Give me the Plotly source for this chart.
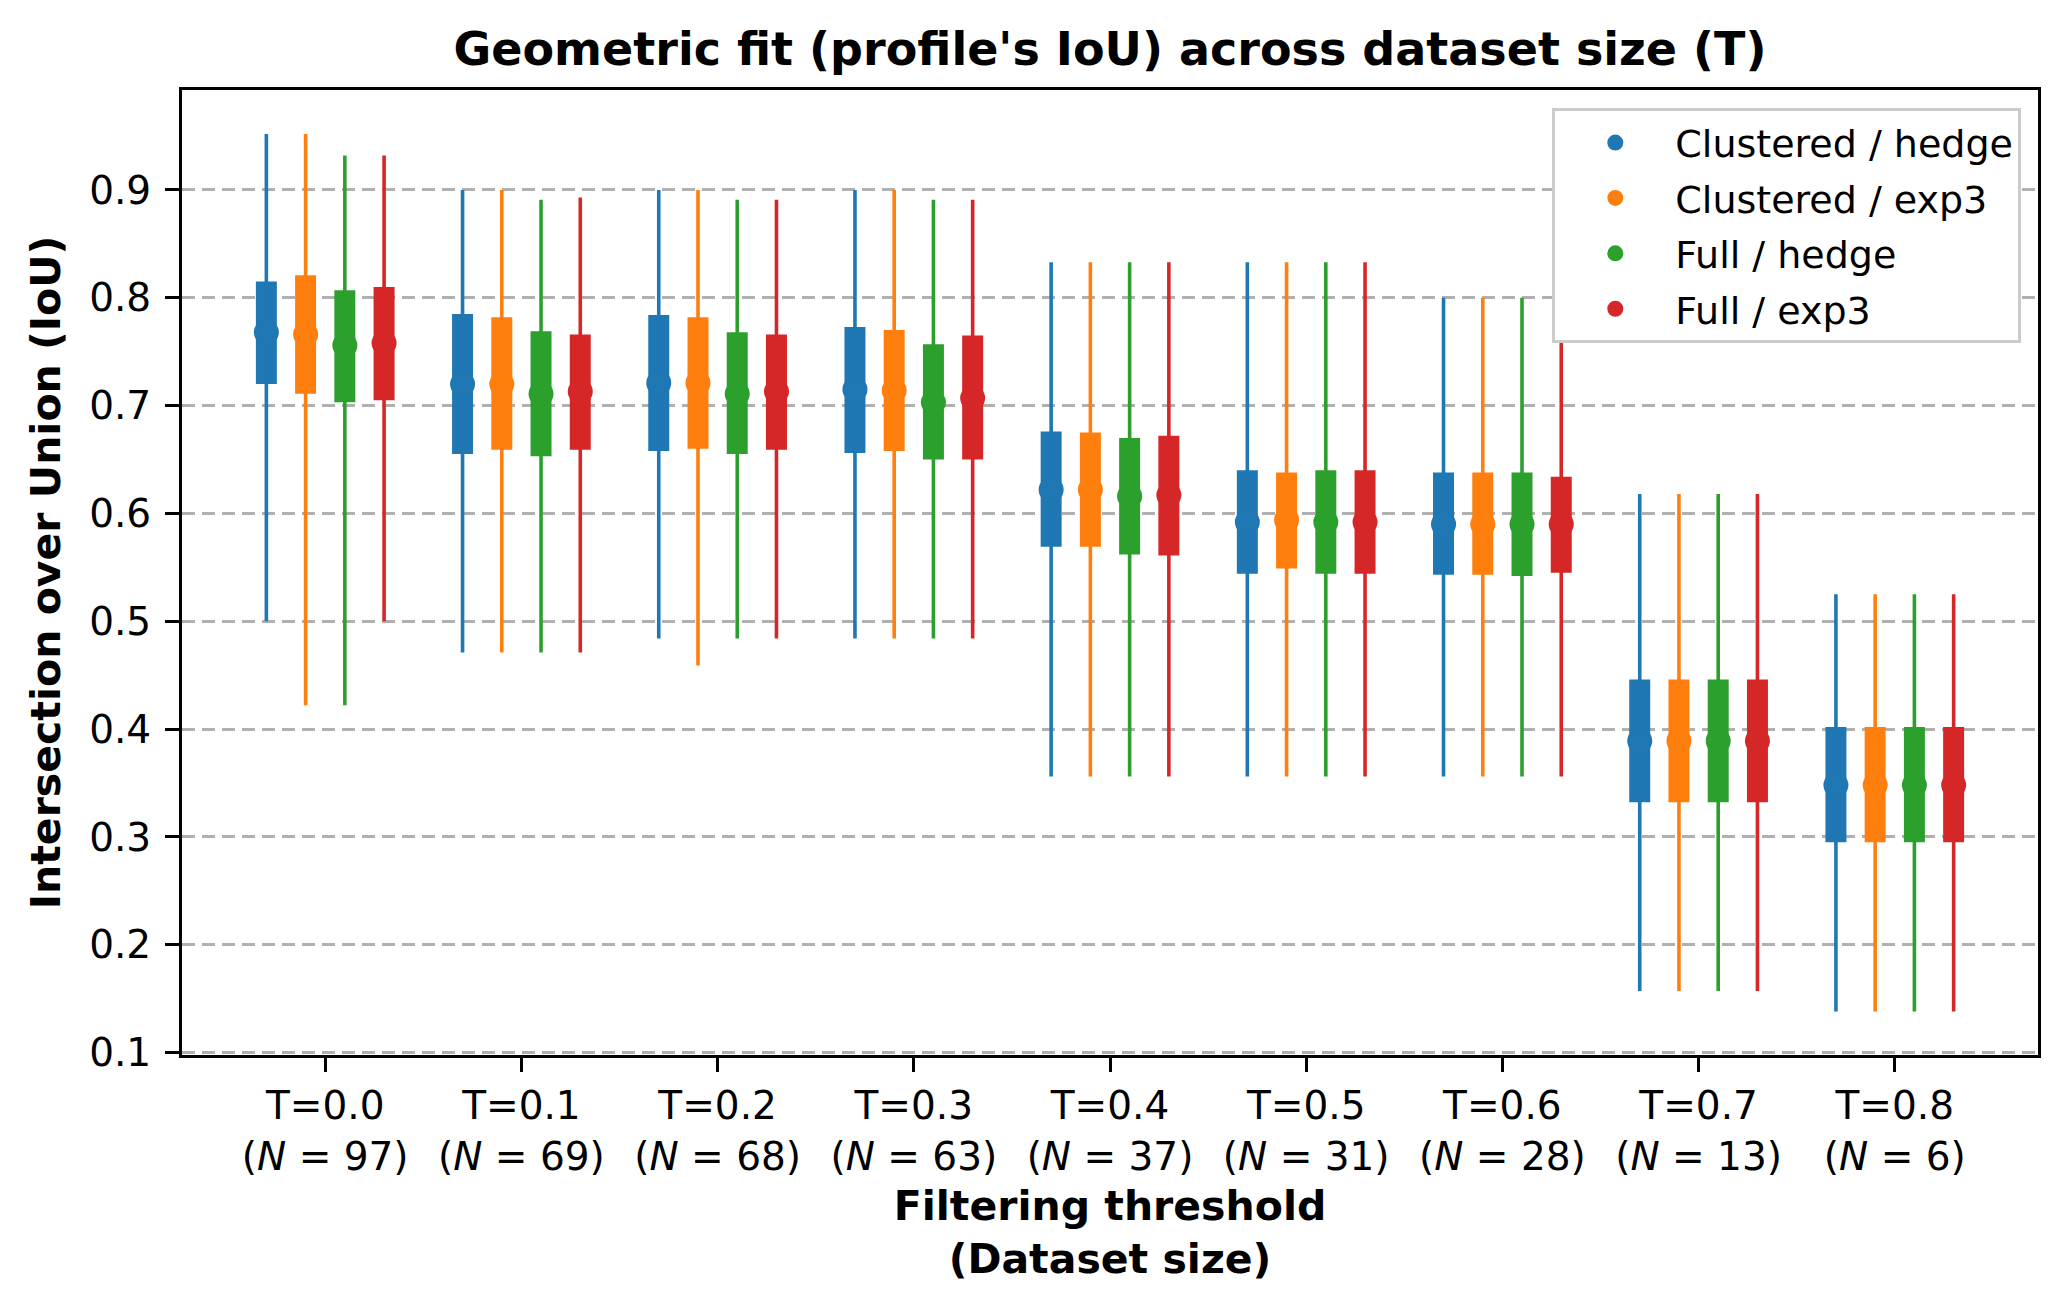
import numpy as np
import plotly.graph_objects as go

thresholds = ["T=0.0", "T=0.1", "T=0.2", "T=0.3", "T=0.4", "T=0.5", "T=0.6", "T=0.7", "T=0.8"]
dataset_sizes = [97, 69, 68, 63, 37, 31, 28, 13, 6]

series_names = ["Clustered / hedge", "Clustered / exp3", "Full / hedge", "Full / exp3"]
series_colors = ["#1f77b4", "#ff7f0e", "#2ca02c", "#d62728"]

min_clustered_hedge = [0.500, 0.471, 0.484, 0.484, 0.356, 0.356, 0.356, 0.157, 0.138]
min_clustered_exp3 = [0.422, 0.471, 0.459, 0.484, 0.356, 0.356, 0.356, 0.157, 0.138]
min_full_hedge = [0.422, 0.471, 0.484, 0.484, 0.356, 0.356, 0.356, 0.157, 0.138]
min_full_exp3 = [0.500, 0.471, 0.484, 0.484, 0.356, 0.356, 0.356, 0.157, 0.138]

q1_clustered_hedge = [0.720, 0.655, 0.658, 0.656, 0.569, 0.544, 0.543, 0.332, 0.295]
q1_clustered_exp3 = [0.711, 0.659, 0.660, 0.658, 0.569, 0.549, 0.543, 0.332, 0.295]
q1_full_hedge = [0.703, 0.653, 0.655, 0.650, 0.562, 0.544, 0.542, 0.332, 0.295]
q1_full_exp3 = [0.705, 0.659, 0.659, 0.650, 0.561, 0.544, 0.545, 0.332, 0.295]

median_clustered_hedge = [0.768, 0.720, 0.721, 0.715, 0.622, 0.592, 0.590, 0.389, 0.348]
median_clustered_exp3 = [0.766, 0.720, 0.721, 0.714, 0.622, 0.594, 0.590, 0.389, 0.348]
median_full_hedge = [0.756, 0.711, 0.711, 0.703, 0.616, 0.592, 0.590, 0.389, 0.348]
median_full_exp3 = [0.758, 0.713, 0.713, 0.707, 0.617, 0.592, 0.590, 0.389, 0.348]

q3_clustered_hedge = [0.815, 0.785, 0.784, 0.773, 0.676, 0.640, 0.638, 0.446, 0.402]
q3_clustered_exp3 = [0.821, 0.782, 0.782, 0.770, 0.675, 0.638, 0.638, 0.446, 0.402]
q3_full_hedge = [0.807, 0.769, 0.768, 0.757, 0.670, 0.640, 0.638, 0.446, 0.402]
q3_full_exp3 = [0.810, 0.766, 0.766, 0.765, 0.672, 0.640, 0.634, 0.446, 0.402]

max_clustered_hedge = [0.952, 0.900, 0.900, 0.900, 0.833, 0.833, 0.800, 0.618, 0.525]
max_clustered_exp3 = [0.952, 0.900, 0.900, 0.900, 0.833, 0.833, 0.800, 0.618, 0.525]
max_full_hedge = [0.932, 0.891, 0.891, 0.891, 0.833, 0.833, 0.800, 0.618, 0.525]
max_full_exp3 = [0.932, 0.893, 0.891, 0.891, 0.833, 0.833, 0.800, 0.618, 0.525]

mins = [min_clustered_hedge, min_clustered_exp3, min_full_hedge, min_full_exp3]
q1s = [q1_clustered_hedge, q1_clustered_exp3, q1_full_hedge, q1_full_exp3]
medians = [median_clustered_hedge, median_clustered_exp3, median_full_hedge, median_full_exp3]
q3s = [q3_clustered_hedge, q3_clustered_exp3, q3_full_hedge, q3_full_exp3]
maxs = [max_clustered_hedge, max_clustered_exp3, max_full_hedge, max_full_exp3]

FONT = "DejaVu Sans"
offsets = [-0.3, -0.1, 0.1, 0.3]
box_width = 0.107
base_x = np.arange(len(thresholds))

fig = go.Figure()
for k, name in enumerate(series_names):
    xs = base_x + offsets[k]
    color = series_colors[k]
    lx, ly = [], []
    for i, x in enumerate(xs):
        lx += [x, x, None]
        ly += [mins[k][i], maxs[k][i], None]
    fig.add_trace(go.Scatter(x=lx, y=ly, mode="lines", line=dict(color=color, width=3.6),
                             showlegend=False, hoverinfo="skip", legendgroup=name))
    fig.add_trace(go.Bar(x=xs, y=np.array(q3s[k]) - np.array(q1s[k]), base=q1s[k],
                         width=box_width, marker=dict(color=color, line=dict(width=0)),
                         showlegend=False, legendgroup=name))
    fig.add_trace(go.Scatter(x=xs, y=medians[k], mode="markers", name=name, legendgroup=name,
                             marker=dict(color=color, size=25, symbol="circle", line=dict(width=0))))

ticktext = [f"{t}<br>(<i>N</i> = {n})" for t, n in zip(thresholds, dataset_sizes)]

fig.update_layout(
    width=2069, height=1307,
    margin=dict(l=182, r=31, t=90, b=252),
    paper_bgcolor="white", plot_bgcolor="white",
    barmode="overlay",
    font=dict(family=FONT, color="black", size=39),
    title=dict(text="<b>Geometric fit (profile's IoU) across dataset size (T)</b>",
               font=dict(family=FONT, size=46, color="black"),
               x=0.5, xref="paper", xanchor="center",
               y=1 - 49 / 1307, yref="container", yanchor="middle"),
    legend=dict(x=0.991, xanchor="right", y=0.981, yanchor="top",
                bgcolor="white", bordercolor="#cccccc", borderwidth=3,
                font=dict(family=FONT, size=38, color="black"),
                itemwidth=110, tracegroupgap=3),
    xaxis=dict(range=[-0.73, 8.73], tickmode="array", tickvals=list(base_x), ticktext=ticktext,
               showgrid=False, zeroline=False,
               showline=True, linecolor="black", linewidth=3, mirror=True,
               ticks="outside", ticklen=14, tickwidth=3, tickcolor="black",
               tickfont=dict(family=FONT, size=39, color="black"),
               title=dict(text="<b>Filtering threshold<br>(Dataset size)</b>",
                          font=dict(family=FONT, size=41, color="black"), standoff=14)),
    yaxis=dict(range=[0.0977, 0.9927], tickmode="array",
               tickvals=[0.1, 0.2, 0.3, 0.4, 0.5, 0.6, 0.7, 0.8, 0.9],
               ticktext=["0.1", "0.2", "0.3", "0.4", "0.5", "0.6", "0.7", "0.8", "0.9"],
               showgrid=True, gridcolor="#b0b0b0", gridwidth=3, griddash="13px,7px",
               zeroline=False,
               showline=True, linecolor="black", linewidth=3, mirror=True,
               ticks="outside", ticklen=14, tickwidth=3, tickcolor="black",
               ticklabelstandoff=6,
               tickfont=dict(family=FONT, size=39, color="black"),
               title=dict(text="<b>Intersection over Union (IoU)</b>",
                          font=dict(family=FONT, size=41, color="black"), standoff=16)),
)

fig.write_html("out.html")
